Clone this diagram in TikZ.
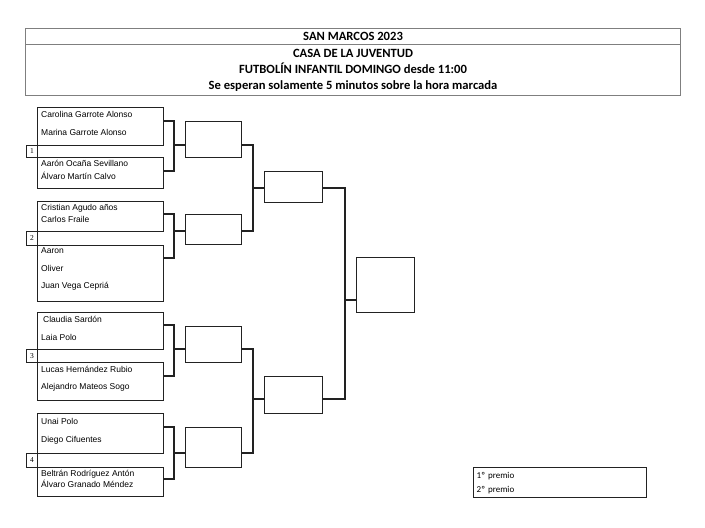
\documentclass[tikz,border=0pt]{standalone}
\usepackage{fontspec}
\setmainfont{Liberation Sans}
\newfontfamily\calibri{Carlito}
\newfontfamily\timesnum{Liberation Serif}
\usetikzlibrary{positioning}
\definecolor{headgray}{HTML}{7F7F7F}
\definecolor{wireink}{HTML}{222222}
\tikzset{
  team/.style={draw=wireink, line width=1.4pt, anchor=north west, minimum width=126pt, inner sep=0pt},
  seed/.style={draw=wireink, line width=1pt, anchor=north west, minimum width=11pt, minimum height=12pt, inner sep=0pt, font=\timesnum\fontsize{7.5}{8}\selectfont},
  slot/.style={draw=wireink, line width=1.4pt, anchor=north west, minimum width=56pt, inner sep=0pt},
  who/.style={anchor=west, inner sep=0pt, font=\fontsize{8.5}{10}\selectfont},
  head/.style={draw=headgray, line width=1.1pt, anchor=north west, minimum width=655pt, inner sep=0pt, align=center, font=\calibri\bfseries\fontsize{12.6}{16}\selectfont},
  wire/.style={draw=wireink, line width=1.4pt},
}
\begin{document}
\begin{tikzpicture}[x=1pt, y=-1pt]
    \useasboundingbox (0,0) rectangle (705,528);
    % header
    \node[head, minimum height=16pt] (ht) at (25,28) {SAN MARCOS 2023};
    \node[head, minimum height=51pt] (hb) at (25,44) {CASA DE LA JUVENTUD\\FUTBOLÍN INFANTIL DOMINGO desde 11:00\\Se esperan solamente 5 minutos sobre la hora marcada};
    % first round pairs
    \node[team, minimum height=38pt] (t1) at (37,107) {};
    \node[team, minimum height=31pt] (t2) at (37,157) {};
    \node[team, minimum height=30pt] (t3) at (37,201) {};
    \node[team, minimum height=56pt] (t4) at (37,245) {};
    \node[team, minimum height=37pt] (t5) at (37,312) {};
    \node[team, minimum height=38pt] (t6) at (37,362) {};
    \node[team, minimum height=40pt] (t7) at (37,413) {};
    \node[team, minimum height=29pt] (t8) at (37,467) {};
    \node[seed] (n1) at (26,145) {1};
    \node[seed, minimum height=14pt] (n2) at (26,231) {2};
    \node[seed, minimum height=13pt] (n3) at (26,349) {3};
    \node[seed, minimum height=14pt] (n4) at (26,453) {4};
    % names
    \node[who] (p1a) at (41,114) {Carolina Garrote Alonso};
    \node[who] (p1b) at (41,132) {Marina Garrote Alonso};
    \node[who] (p2a) at (41,163) {Aarón Ocaña Sevillano};
    \node[who] (p2b) at (41,176) {Álvaro Martín Calvo};
    \node[who] (p3a) at (41,208) {Cristian Agudo años};
    \node[who] (p3b) at (41,219) {Carlos Fraile};
    \node[who] (p4a) at (41,251) {Aaron};
    \node[who] (p4b) at (41,268) {Oliver};
    \node[who] (p4c) at (41,286) {Juan Vega Cepriá};
    \node[who] (p5a) at (43,319) {Claudia Sardón};
    \node[who] (p5b) at (41,337) {Laia Polo};
    \node[who] (p6a) at (41,369) {Lucas Hernández Rubio};
    \node[who] (p6b) at (41,387) {Alejandro Mateos Sogo};
    \node[who] (p7a) at (41,421) {Unai Polo};
    \node[who] (p7b) at (41,440) {Diego Cifuentes};
    \node[who] (p8a) at (41,474) {Beltrán Rodríguez Antón};
    \node[who] (p8b) at (41,484) {Álvaro Granado Méndez};
    % later rounds
    \node[slot, minimum height=36pt] (q1) at (185,121) {};
    \node[slot, minimum height=30pt] (q2) at (185,214) {};
    \node[slot, minimum height=36pt] (q3) at (185,326) {};
    \node[slot, minimum height=40pt] (q4) at (185,427) {};
    \node[slot, minimum width=58pt, minimum height=31pt] (s1) at (264,171) {};
    \node[slot, minimum width=58pt, minimum height=37pt] (s2) at (264,376) {};
    \node[slot, minimum width=58pt, minimum height=55pt] (f) at (356,257) {};
    % prizes
    \node[draw=wireink, line width=1.4pt, anchor=north west, minimum width=173pt, minimum height=30pt, text width=167pt, inner sep=3pt, align=left, font=\calibri\fontsize{9}{14}\selectfont] (pz) at (473,467) {1º premio\\2º premio};
    % junctions
    \coordinate (j1) at (174,145);
    \coordinate (j2) at (174,231);
    \coordinate (j3) at (174,349);
    \coordinate (j4) at (174,453);
    \coordinate (k1) at (253,188);
    \coordinate (k2) at (253,399);
    \coordinate (m) at (345,300);
    \draw[wire] ([yshift=-14pt]t1.north east) -| (j1) |- ([yshift=-14pt]t2.north east);
    \draw[wire] ([yshift=-13pt]t3.north east) -| (j2) |- ([yshift=-13pt]t4.north east);
    \draw[wire] ([yshift=-13pt]t5.north east) -| (j3) |- ([yshift=-14pt]t6.north east);
    \draw[wire] ([yshift=-14pt]t7.north east) -| (j4) |- ([yshift=-12pt]t8.north east);
    \draw[wire] (j1) -- (j1 -| q1.west); \draw[wire] (j2) -- (j2 -| q2.west);
    \draw[wire] (j3) -- (j3 -| q3.west); \draw[wire] (j4) -- (j4 -| q4.west);
    \draw[wire] (q1.east |- j1) -| (k1) |- (q2.east |- j2);
    \draw[wire] (q3.east |- j3) -| (k2) |- (q4.east |- j4);
    \draw[wire] (k1) -- (k1 -| s1.west); \draw[wire] (k2) -- (k2 -| s2.west);
    \draw[wire] (s1.east |- k1) -| (m) |- (s2.east |- k2);
    \draw[wire] (m) -- (m -| f.west);
\end{tikzpicture}
\end{document}
